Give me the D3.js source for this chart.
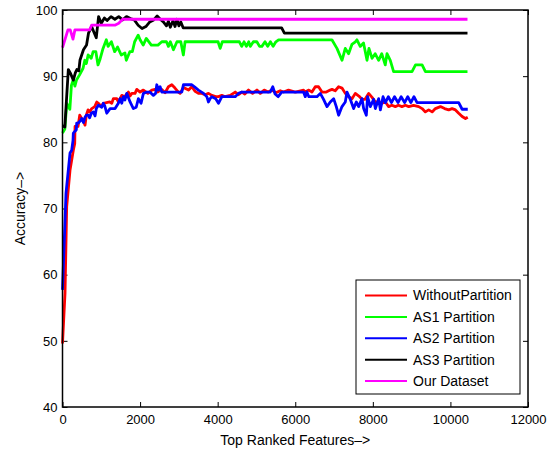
<!DOCTYPE html>
<html>
<head>
<meta charset="utf-8">
<script src="https://cdnjs.cloudflare.com/ajax/libs/d3/7.8.5/d3.min.js"></script>
<style>
  body { margin: 0; background: #fff; }
  svg { font-family: "Liberation Sans", Arial, sans-serif; }
  .axis path, .axis line { stroke: #000; }
</style>
</head>
<body>
<svg id="chart" width="559" height="450"></svg>
<script>
// data: [features, accuracy]
const seriesNames = ['WithoutPartition', 'AS1 Partition', 'AS2 Partition', 'AS3 Partition', 'Our Dataset'];
const seriesColors = ['#ff0000', '#00ff00', '#0000ff', '#000000', '#ff00ff'];

const withoutPartition = [[0,49.6],[65,57.2],[108,70.3],[194,75.8],[279,78.8],[315,79.8],[323,82.4],[400,82.4],[444,84.1],[495,83.6],[529,83.4],[581,82.6],[614,84.1],[658,84.9],[700,84.6],[754,85.1],[831,85.4],[883,86.1],[924,85.9],[1001,85.4],[1053,85.9],[1218,86.1],[1270,85.9],[1311,86.6],[1400,86.6],[1440,86.1],[1528,87.1],[1600,86.9],[1698,87.6],[1742,87.0],[1786,87.4],[1870,87.4],[1915,88.0],[2000,87.6],[2085,87.9],[2200,87.4],[2302,87.9],[2387,88.0],[2450,87.6],[2560,88.0],[2645,87.5],[2730,88.4],[2818,88.7],[2900,88.2],[2988,87.6],[3032,87.4],[3117,88.3],[3250,87.9],[3334,88.4],[3420,87.7],[3504,87.4],[3592,87.4],[3677,87.2],[3763,87.4],[3850,87.1],[3950,86.9],[4021,86.9],[4108,87.1],[4194,86.9],[4323,87.1],[4452,87.6],[4537,87.2],[4624,87.6],[4700,87.3],[4795,87.9],[4900,87.4],[5012,87.9],[5100,87.4],[5200,87.9],[5300,87.6],[5400,87.9],[5500,87.5],[5613,87.8],[5700,87.6],[5827,87.9],[6000,87.6],[6214,87.9],[6258,87.6],[6350,87.9],[6431,87.6],[6516,88.4],[6601,88.4],[6689,87.6],[6800,87.6],[6900,87.9],[6947,88.0],[7030,87.8],[7118,88.4],[7205,88.2],[7290,87.4],[7375,86.9],[7463,86.6],[7548,87.4],[7640,87.0],[7721,86.5],[7800,86.5],[7892,87.4],[7980,86.8],[8065,86.1],[8150,86.1],[8237,85.9],[8323,86.1],[8408,85.4],[8490,85.6],[8580,85.4],[8660,85.6],[8750,85.4],[8840,85.6],[8924,85.4],[9050,85.6],[9182,85.4],[9270,85.1],[9355,84.6],[9440,84.9],[9528,84.6],[9613,85.1],[9742,85.4],[9850,85.1],[9956,84.9],[10044,85.1],[10130,84.9],[10214,84.4],[10302,83.9],[10387,83.6],[10447,83.8]];

const as1Partition = [[0,81.4],[60,82.0],[110,85.9],[190,85.0],[230,88.6],[280,89.5],[320,88.5],[360,89.4],[440,90.2],[530,91.2],[575,92.4],[615,91.9],[660,93.2],[740,92.7],[790,93.7],[860,93.7],[915,91.7],[970,92.6],[1045,94.2],[1130,95.5],[1175,94.5],[1260,95.2],[1345,93.7],[1420,94.4],[1515,93.2],[1610,93.5],[1645,92.4],[1735,93.7],[1800,93.7],[1860,95.2],[1950,96.2],[2000,95.5],[2080,94.7],[2160,95.7],[2290,94.7],[2460,94.7],[2560,95.2],[2680,95.2],[2730,94.5],[2780,95.2],[2860,94.0],[2950,95.2],[3050,95.2],[3115,93.2],[3160,95.2],[4010,95.2],[4065,94.2],[4120,95.2],[4495,95.2],[4560,95.2],[4620,94.5],[4680,95.2],[4740,94.5],[4800,95.2],[4840,94.5],[4920,95.2],[5010,95.2],[5080,94.5],[5140,94.5],[5220,95.2],[5290,94.5],[5360,95.2],[5430,94.5],[5500,95.2],[5570,95.5],[6945,95.5],[7075,94.2],[7205,92.4],[7290,94.2],[7375,93.4],[7460,94.8],[7550,95.2],[7590,95.5],[7675,94.5],[7760,95.0],[7850,92.4],[7900,94.2],[7980,92.7],[8060,93.4],[8150,92.4],[8230,93.4],[8320,91.7],[8365,93.4],[8450,92.4],[8535,90.7],[9010,90.7],[9100,91.7],[9270,91.7],[9355,90.7],[10440,90.7]];

const as2Partition = [[0,57.7],[90,72.3],[194,78.4],[237,78.8],[271,80.3],[279,81.4],[356,81.9],[366,82.9],[400,82.9],[485,83.4],[495,83.6],[540,83.0],[580,83.8],[614,84.1],[666,84.1],[700,83.7],[743,84.4],[795,84.6],[840,84.0],[872,85.1],[924,85.6],[1012,85.3],[1053,85.9],[1089,85.5],[1141,84.4],[1226,85.1],[1355,85.1],[1440,85.9],[1484,86.6],[1528,85.9],[1569,86.9],[1610,86.4],[1657,87.4],[1742,86.1],[1827,85.1],[1900,85.3],[1956,86.6],[2026,85.9],[2085,87.4],[2173,87.6],[2250,87.6],[2343,87.1],[2400,87.4],[2431,88.7],[2472,87.9],[2516,88.4],[2560,87.6],[2645,87.6],[3076,87.6],[3117,88.7],[3334,88.7],[3420,88.3],[3504,87.9],[3636,87.4],[3721,86.9],[3763,86.1],[3806,86.6],[3850,86.9],[3950,86.6],[4021,85.9],[4108,86.9],[4452,86.9],[4537,87.4],[4624,87.6],[5355,87.6],[5420,88.4],[5480,87.3],[5560,86.9],[5650,87.6],[6214,87.6],[6258,86.9],[6300,87.6],[6350,86.9],[6431,86.9],[6560,86.9],[6645,87.4],[6730,86.5],[6818,85.4],[6903,86.1],[6990,86.6],[7058,85.4],[7118,84.1],[7205,85.4],[7290,86.1],[7334,87.6],[7419,86.5],[7505,85.1],[7574,86.1],[7634,85.4],[7721,86.6],[7763,85.1],[7832,84.1],[7865,86.9],[7935,85.4],[8021,86.5],[8065,85.1],[8150,86.6],[8194,84.9],[8263,86.9],[8323,86.0],[8400,86.9],[8480,86.0],[8560,86.9],[8650,86.0],[8730,86.9],[8820,86.0],[8900,86.9],[8980,86.0],[9060,86.9],[9140,86.0],[9182,86.0],[10214,86.0],[10302,85.0],[10447,85.0]];

const as3Partition = [[0,82.5],[60,82.3],[150,91.0],[200,90.5],[280,89.4],[330,90.5],[370,91.0],[420,90.8],[450,92.4],[540,94.0],[620,94.7],[670,96.5],[750,97.5],[800,96.8],[870,95.8],[930,99.0],[1000,98.0],[1080,98.8],[1150,98.4],[1250,99.0],[1350,98.6],[1450,99.0],[1550,98.5],[1650,99.0],[1750,98.7],[1850,98.5],[1950,97.7],[2050,97.2],[2150,97.5],[2250,98.2],[2350,98.5],[2440,99.1],[2520,98.6],[2600,98.2],[2680,97.6],[2730,98.3],[2780,97.4],[2850,98.4],[2900,97.5],[2950,98.6],[3000,97.6],[3050,98.2],[3110,97.3],[5650,97.3],[5720,96.5],[10440,96.5]];

const ourDataset = [[0,94.3],[140,97.0],[200,97.0],[270,95.6],[320,97.0],[700,97.0],[750,97.7],[1350,97.7],[1450,98.0],[1550,98.6],[10440,98.6]];

const allSeries = [withoutPartition, as1Partition, as2Partition, as3Partition, ourDataset];

const xTicks = [0, 2000, 4000, 6000, 8000, 10000, 12000];
const yTicks = [40, 50, 60, 70, 80, 90, 100];

const svg = d3.select('#chart');
const plotLeft = 62.5, plotRight = 528, plotTop = 10, plotBottom = 407;

const x = d3.scaleLinear().domain([0, 12000]).range([plotLeft, plotRight]);
const y = d3.scaleLinear().domain([40, 100]).range([plotBottom, plotTop]);

// axes, ticks pointing inward like matlab
svg.append('g').attr('class', 'axis')
  .attr('transform', `translate(0,${plotBottom})`)
  .call(d3.axisBottom(x).tickValues(xTicks).tickFormat(d3.format('d'))
    .tickSizeInner(-5).tickSizeOuter(0).tickPadding(8))
  .attr('font-size', 13).attr('font-family', null);

svg.append('g').attr('class', 'axis')
  .attr('transform', `translate(${plotLeft},0)`)
  .call(d3.axisLeft(y).tickValues(yTicks).tickSizeInner(-5).tickSizeOuter(0).tickPadding(5))
  .attr('font-size', 13).attr('font-family', null);

svg.append('g').attr('class', 'axis')
  .attr('transform', `translate(0,${plotTop})`)
  .call(d3.axisTop(x).tickValues(xTicks).tickSizeInner(-5).tickSizeOuter(0).tickFormat(''));

svg.append('g').attr('class', 'axis')
  .attr('transform', `translate(${plotRight},0)`)
  .call(d3.axisRight(y).tickValues(yTicks).tickSizeInner(-5).tickSizeOuter(0).tickFormat(''));

svg.selectAll('.axis .domain').remove();
svg.selectAll('.axis text').attr('fill', '#000');

// the lines
const line = d3.line().x(d => x(d[0])).y(d => y(d[1]));

svg.append('g').selectAll('path')
  .data(allSeries)
  .join('path')
  .attr('d', line)
  .attr('fill', 'none')
  .attr('stroke', (d, i) => seriesColors[i])
  .attr('stroke-width', 2.8)
  .attr('stroke-linejoin', 'round');

// box round the plot
svg.append('rect')
  .attr('x', plotLeft).attr('y', plotTop)
  .attr('width', plotRight - plotLeft).attr('height', plotBottom - plotTop)
  .attr('fill', 'none').attr('stroke', '#000').attr('stroke-width', 1.5);

// axis labels
svg.append('text')
  .attr('x', (plotLeft + plotRight) / 2).attr('y', 445)
  .attr('text-anchor', 'middle').attr('font-size', 14)
  .text('Top Ranked Features–>');

svg.append('text')
  .attr('transform', `translate(25,${(plotTop + plotBottom) / 2}) rotate(-90)`)
  .attr('text-anchor', 'middle').attr('font-size', 14)
  .text('Accuracy–>');

// legend
const legend = svg.append('g');
legend.append('rect')
  .attr('x', 356).attr('y', 280).attr('width', 164).attr('height', 114)
  .attr('fill', '#fff').attr('stroke', '#000').attr('stroke-width', 1);

const rows = legend.selectAll('g.row')
  .data(seriesNames)
  .join('g').attr('class', 'row')
  .attr('transform', (d, i) => `translate(0,${295.5 + i * 21.4})`);

rows.append('line')
  .attr('x1', 365).attr('x2', 407)
  .attr('stroke', (d, i) => seriesColors[i]).attr('stroke-width', 2);

rows.append('text')
  .attr('x', 413).attr('dy', '0.35em')
  .attr('font-size', 14)
  .text(d => d);
</script>
</body>
</html>
